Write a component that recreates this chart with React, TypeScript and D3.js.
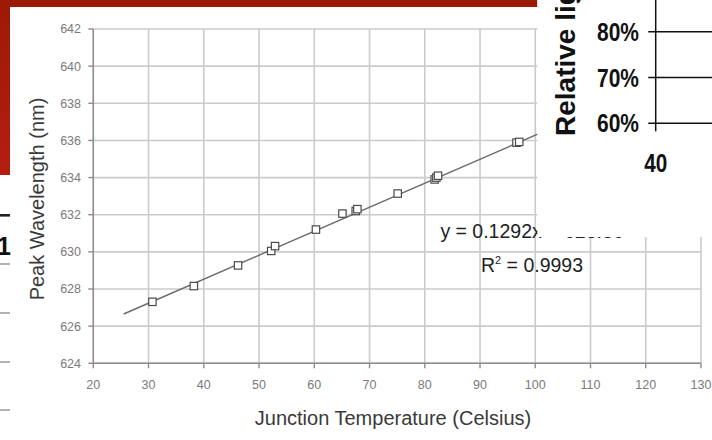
import React from "react";
import { scaleLinear, line } from "d3";

// main chart: peak wavelength vs junction temperature
const tempC = [30.7, 38.2, 46.2, 52.2, 52.9, 60.3, 65.1, 67.5, 67.8, 75.1, 81.8, 82.1, 82.4, 96.6, 97.1];
const peakNm = [627.31, 628.16, 629.27, 630.05, 630.31, 631.2, 632.06, 632.2, 632.3, 633.14, 633.9, 634.0, 634.1, 635.88, 635.92];
const xTicks = [20, 30, 40, 50, 60, 70, 80, 90, 100, 110, 120, 130];
const yTicks = [624, 626, 628, 630, 632, 634, 636, 638, 640, 642];
const trendSlope = 0.1292;
const trendIntercept = 623.36;
const trendRange = [25.5, 110];
const eqText = "y = 0.1292x + 623.36";
const r2Value = "0.9993";

// fragment of the other chart on the right
const relTicks = [60, 70, 80];
const relXTicks = [40];
// ruled lines of the slide on the left
const leftRules = [264, 313, 362, 410];

const W = 712;
const H = 440;

const App = () => {
  const x = scaleLinear().domain([20, 130]).range([93.3, 701]);
  const y = scaleLinear().domain([624, 642]).range([363.3, 29]);

  const trend = line<number>()
    .x((d) => x(d))
    .y((d) => y(trendSlope * d + trendIntercept));

  const ry = scaleLinear().domain([60, 80]).range([123.3, 31.7]);
  const rx = scaleLinear().domain([40, 50]).range([655.7, 760]);

  const tickFont = "'Liberation Sans Narrow', 'Liberation Sans', Arial, sans-serif";
  const font = "'Liberation Sans', Arial, sans-serif";

  return (
    <div style={{ position: "fixed", left: 0, top: 0 }}>
      <svg width={W} height={H} style={{ display: "block", background: "#fff" }}>
        <defs>
          <linearGradient id="redSide" x1="0" y1="0" x2="0" y2="1">
            <stop offset="0" stopColor="#9c1a06" />
            <stop offset="1" stopColor="#b51d12" />
          </linearGradient>
        </defs>

        {/* slide background: red band */}
        <rect x={0} y={0} width={537.5} height={7} fill="#9c1a02" />
        <rect x={0} y={0} width={10} height={175} fill="url(#redSide)" />

        {/* left fragment of another slide */}
        <rect x={0} y={214} width={10} height={2.6} fill="#222" />
        <text x={-3} y={255} fontFamily={font} fontWeight="bold" fontSize={25} fill="#111">1</text>
        {leftRules.map((r) => (
          <line key={r} x1={0} x2={10} y1={r} y2={r} stroke="#8a8a8a" strokeWidth={1.3} />
        ))}

        {/* gridlines */}
        <g stroke="#cbcbcb" strokeWidth={1.6}>
          {yTicks.map((t) => (
            <line key={"gy" + t} x1={x(20)} x2={x(130)} y1={y(t)} y2={y(t)} />
          ))}
          {xTicks.map((t) => (
            <line key={"gx" + t} x1={x(t)} x2={x(t)} y1={y(642)} y2={y(624)} />
          ))}
        </g>

        {/* axes */}
        <g stroke="#8c8c8c" strokeWidth={1.4}>
          <line x1={x(20)} x2={x(20)} y1={y(642)} y2={y(624)} />
          <line x1={x(20)} x2={x(130)} y1={y(624)} y2={y(624)} />
          {yTicks.map((t) => (
            <line key={"ty" + t} x1={x(20) - 5} x2={x(20)} y1={y(t)} y2={y(t)} />
          ))}
          {xTicks.map((t) => (
            <line key={"tx" + t} x1={x(t)} x2={x(t)} y1={y(624)} y2={y(624) + 5} />
          ))}
        </g>

        {/* tick labels */}
        <g fontFamily={tickFont} fontSize={12.5} fill="#7a7a7a">
          {yTicks.map((t) => (
            <text key={"ly" + t} x={81} y={y(t)} dy="0.35em" textAnchor="end">{t}</text>
          ))}
          {xTicks.map((t) => (
            <text key={"lx" + t} x={x(t)} y={385} dy="0.35em" textAnchor="middle">{t}</text>
          ))}
        </g>

        {/* axis titles */}
        <text x={393} y={425} textAnchor="middle" fontFamily={font} fontSize={20} fill="#3a3a3a">
          Junction Temperature (Celsius)
        </text>
        <text transform="translate(44,199) rotate(-90)" textAnchor="middle" fontFamily={font} fontSize={20} fill="#3a3a3a">
          Peak Wavelength (nm)
        </text>

        {/* trend line */}
        <path d={trend(trendRange) || ""} fill="none" stroke="#6a6a6a" strokeWidth={1.4} />

        {/* markers */}
        {tempC.map((t, i) => (
          <rect key={"m" + i} x={x(t) - 3.7} y={y(peakNm[i]) - 3.7} width={7.4} height={7.4} fill="#fff" stroke="#4a4a4a" strokeWidth={1.2} />
        ))}

        {/* trendline equation */}
        <g fontFamily={font} fontSize={19.5} fill="#222" textAnchor="middle">
          <text x={532} y={238}>{eqText}</text>
          <text x={532} y={272}>
            R<tspan fontSize={11} dy={-8}>2</tspan>
            <tspan dy={8}> = {r2Value}</tspan>
          </text>
        </g>

        {/* overlaid panel of another chart */}
        <rect x={537.3} y={0} width={W - 537.3} height={237} fill="#fff" />
        <g stroke="#111" strokeWidth={1.5}>
          <line x1={rx(40)} x2={rx(40)} y1={0} y2={ry(60) + 8} />
          {relTicks.map((t) => (
            <line key={"rl" + t} x1={rx(40) - 7.5} x2={W} y1={ry(t)} y2={ry(t)} />
          ))}
        </g>
        <g fontFamily={font} fontWeight="bold" fontSize={25} fill="#111">
          {relTicks.map((t) => (
            <text key={"rt" + t} x={639} y={ry(t)} dy="0.36em" textAnchor="end" textLength={42} lengthAdjust="spacingAndGlyphs">
              {t}%
            </text>
          ))}
          {relXTicks.map((t) => (
            <text key={"rx" + t} x={rx(t)} y={172} textAnchor="middle" textLength={23} lengthAdjust="spacingAndGlyphs">
              {t}
            </text>
          ))}
        </g>
        <text transform="translate(575,136) rotate(-90)" fontFamily={font} fontWeight="bold" fontSize={28} fill="#111">
          Relative light output
        </text>
      </svg>
    </div>
  );
};

export default App;
